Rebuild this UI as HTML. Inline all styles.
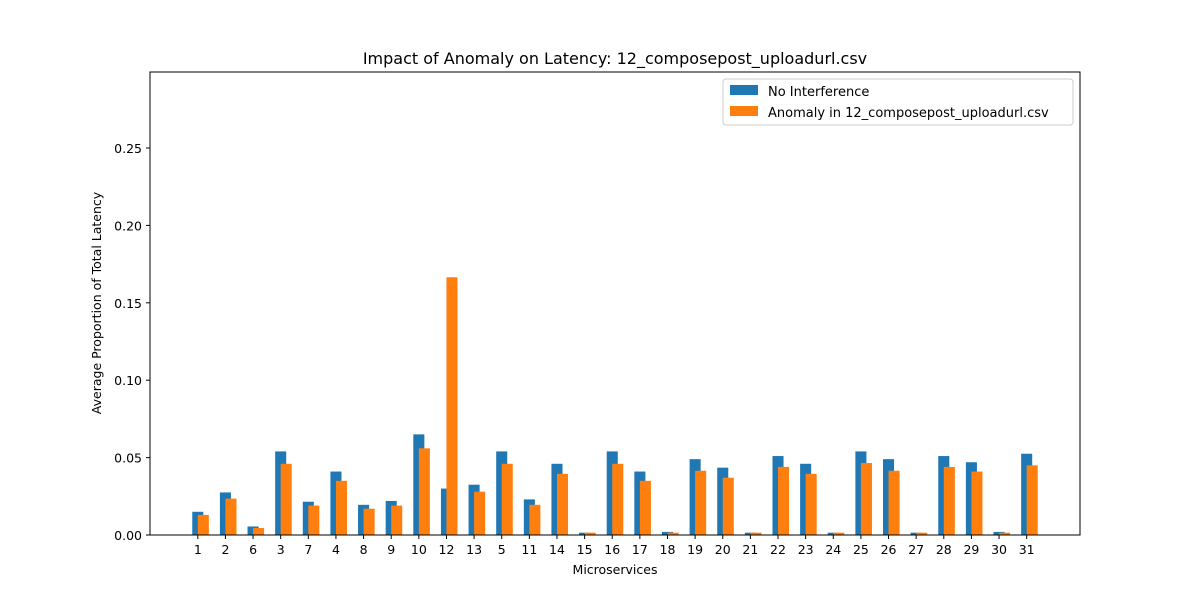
<!DOCTYPE html>
<html><head><meta charset="utf-8"><style>
body{margin:0;background:#fff}
svg text{font-family:"DejaVu Sans","Liberation Sans",sans-serif;fill:#000}
</style></head><body>
<svg id="c" width="1200" height="600" xmlns="http://www.w3.org/2000/svg"></svg>
<script>
const categories=["1","2","6","3","7","4","8","9","10","12","13","5","11","14","15","16","17","18","19","20","21","22","23","24","25","26","27","28","29","30","31"];
const noInterference=[0.015,0.0275,0.0055,0.054,0.0215,0.041,0.0195,0.022,0.065,0.030,0.0325,0.054,0.023,0.046,0.0015,0.054,0.041,0.002,0.049,0.0435,0.0015,0.051,0.046,0.0015,0.054,0.049,0.0015,0.051,0.047,0.002,0.0525];
const anomaly=[0.013,0.0235,0.0045,0.046,0.019,0.035,0.017,0.019,0.056,0.1665,0.028,0.046,0.0195,0.0395,0.0015,0.046,0.035,0.0015,0.0415,0.037,0.0015,0.044,0.0395,0.0015,0.0465,0.0415,0.0015,0.044,0.041,0.0015,0.045];
const yTicks=[0,0.05,0.10,0.15,0.20,0.25];
const yTickLabels=["0.00","0.05","0.10","0.15","0.20","0.25"];
const NS="http://www.w3.org/2000/svg";
const svg=document.getElementById('c');
const L=150,R=1080,T=72,B=535,yMax=0.2991,bw=0.4;
const xMin=-1.73,xMax=31.93;
function sx(v){return L+(v-xMin)/(xMax-xMin)*(R-L);}
function sy(v){return B-v/yMax*(B-T);}
function el(t,a,txt){const e=document.createElementNS(NS,t);for(const k in a)e.setAttribute(k,a[k]);if(txt!==undefined)e.textContent=txt;svg.appendChild(e);return e;}
categories.forEach((c,i)=>{
  let b=el('rect',{x:sx(i-bw/2),y:sy(noInterference[i]),width:sx(bw)-sx(0),height:B-sy(noInterference[i]),fill:'#1f77b4'});
  
  
  let o=el('rect',{x:sx(i+0.2-bw/2),y:sy(anomaly[i]),width:sx(bw)-sx(0),height:B-sy(anomaly[i]),fill:'#ff7f0e'});
  
  
  el('line',{x1:sx(i),x2:sx(i),y1:B,y2:B+4,stroke:'#000'});
  let t=el('text',{x:sx(i),y:B+19,'text-anchor':'middle','font-size':12.5},c);
  
  
});
yTicks.forEach((v,i)=>{
  el('line',{x1:L-4,x2:L,y1:sy(v),y2:sy(v),stroke:'#000'});
  let t=el('text',{x:L-8,y:sy(v)+5,'text-anchor':'end','font-size':12.5},yTickLabels[i]);
  
  
});
el('rect',{x:L,y:T,width:R-L,height:B-T,fill:'none',stroke:'#000','stroke-width':1});
let tt=el('text',{x:615,y:64,'text-anchor':'middle','font-size':16},'Impact of Anomaly on Latency: 12_composepost_uploadurl.csv');

let xt=el('text',{x:615,y:574,'text-anchor':'middle','font-size':12.5},'Microservices');

let yt=el('text',{x:101,y:303,'text-anchor':'middle','font-size':12.5,transform:'rotate(-90 101 303)'},'Average Proportion of Total Latency');

let lg=el('rect',{x:723,y:79,width:350,height:46,fill:'#fff',stroke:'#ccc',rx:3});

el('rect',{x:730,y:85,width:28,height:10,fill:'#1f77b4'});
let l1=el('text',{x:768,y:96,'font-size':13},'No Interference');

el('rect',{x:730,y:106,width:28,height:10,fill:'#ff7f0e'});
let l2=el('text',{x:768,y:117,'font-size':13},'Anomaly in 12_composepost_uploadurl.csv');

</script>
</body></html>
